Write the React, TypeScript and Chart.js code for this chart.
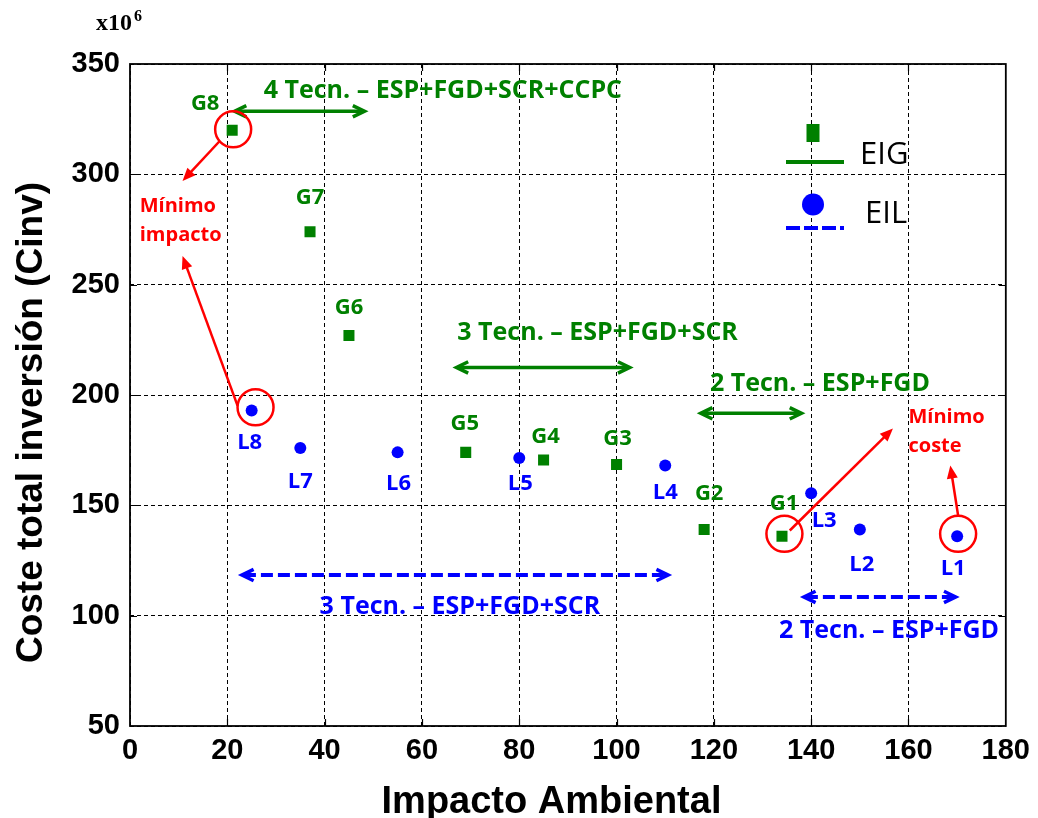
import React, { useEffect, useRef } from 'react';
import { Chart, registerables } from 'chart.js';

Chart.register(...registerables);

// ---------------- data ----------------
const seriesNames = ['EIG', 'EIL'];
const gLabels = ['G1', 'G2', 'G3', 'G4', 'G5', 'G6', 'G7', 'G8'];
const gImpact = [134, 118, 100, 85, 69, 45, 37, 21];
const gCost = [136, 139, 168.5, 170.5, 174, 227, 274, 320];
const lLabels = ['L1', 'L2', 'L3', 'L4', 'L5', 'L6', 'L7', 'L8'];
const lImpact = [170, 150, 140, 110, 80, 55, 35, 25];
const lCost = [136, 139, 155.5, 168, 171.5, 174, 176, 193];
const xTicks = [0, 20, 40, 60, 80, 100, 120, 140, 160, 180];
const yTicks = [50, 100, 150, 200, 250, 300, 350];
const xTitle = 'Impacto Ambiental';
const yTitle = 'Coste total inversión (Cinv)';
const yMultiplier = ['x10', '6'];

// technology ranges (data units)
const rangeTexts = [
  '4 Tecn. – ESP+FGD+SCR+CCPC',
  '3 Tecn. – ESP+FGD+SCR',
  '2 Tecn. – ESP+FGD',
  '3 Tecn. – ESP+FGD+SCR',
  '2 Tecn. – ESP+FGD',
];
const rangeSeries = [0, 0, 0, 1, 1];
const rangeFrom = [21.5, 67.1, 117.3, 23, 138.5];
const rangeTo = [48.2, 102.7, 138, 110.6, 169.7];
const rangeLevel = [328.6, 212.5, 191.7, 118.4, 108.5];
const rangeTextX = [64.3, 96.1, 141.8, 67.8, 156];
const rangeTextY = [338.8, 228.8, 205.7, 104.7, 94.1];

// highlighted optima (data units)
const noteLines = [['Mínimo', 'impacto'], ['Mínimo', 'coste']];
const noteX = [2.0, 160.0];
const noteY = [286, 190.6];
const circledX = [21.2, 25.8, 134.5, 170.2];
const circledY = [320.4, 194.4, 137.1, 137.1];
const pointerFromX = [18.4, 22.1, 135.6, 170.2];
const pointerFromY = [315, 195.2, 138.6, 145.4];
const pointerToX = [10.8, 10.8, 156.8, 168.6];
const pointerToY = [297, 263, 184.8, 168];

// ---------------- styles ----------------
const GREEN = '#008000';
const BLUE = '#0000ff';
const RED = '#ff0000';
const seriesColors = [GREEN, BLUE];
const LABEL_FONT = '"Open Sans", "Noto Sans", sans-serif';
const AXIS_FONT = '"Liberation Sans", Arial, sans-serif';
const gLabelDx = [2, 5, 1, 2, -1, 0, 0, -27];
const gLabelDy = [-34, -37, -27, -25, -30, -29, -36, -28];
const lLabelDx = [-4, 2, 13, 0, 1, 1, 0, -2];
const lLabelDy = [31, 34, 26, 26, 24, 30, 32, 31];

function capText(ctx: CanvasRenderingContext2D, str: string, x: number, y: number, size: number, weight: string, color: string, align: CanvasTextAlign = 'center', family = LABEL_FONT) {
  ctx.font = `${weight} ${size}px ${family}`;
  ctx.fillStyle = color;
  ctx.textAlign = align;
  ctx.textBaseline = 'alphabetic';
  ctx.fillText(str, x, y + size * 0.357);
}

function chevron(ctx: CanvasRenderingContext2D, tx: number, ty: number, ang: number, len: number, spread: number) {
  ctx.beginPath();
  ctx.moveTo(tx - len * Math.cos(ang - spread), ty - len * Math.sin(ang - spread));
  ctx.lineTo(tx, ty);
  ctx.lineTo(tx - len * Math.cos(ang + spread), ty - len * Math.sin(ang + spread));
  ctx.stroke();
}

function filledHead(ctx: CanvasRenderingContext2D, tx: number, ty: number, ang: number, len: number, half: number) {
  const bx = tx - len * Math.cos(ang);
  const by = ty - len * Math.sin(ang);
  ctx.beginPath();
  ctx.moveTo(tx, ty);
  ctx.lineTo(bx + half * Math.sin(ang), by - half * Math.cos(ang));
  ctx.lineTo(bx - half * Math.sin(ang), by + half * Math.cos(ang));
  ctx.closePath();
  ctx.fill();
}

const annotPlugin = {
  id: 'annot',
  afterDatasetsDraw(chart: any) {
    const { ctx, chartArea: ca, scales } = chart;
    const xs = scales.x;
    const ys = scales.y;
    const px = (v: number) => xs.getPixelForValue(v);
    const py = (v: number) => ys.getPixelForValue(v);
    ctx.save();

    // frame + inner ticks
    ctx.strokeStyle = '#000';
    ctx.lineWidth = 1.8;
    ctx.setLineDash([]);
    ctx.strokeRect(ca.left, ca.top, ca.right - ca.left, ca.bottom - ca.top);
    ctx.lineWidth = 1.2;
    ctx.beginPath();
    xTicks.slice(1, -1).forEach((v) => {
      const X = Math.round(px(v)) + 0.5;
      ctx.moveTo(X, ca.bottom); ctx.lineTo(X, ca.bottom - 7);
      ctx.moveTo(X, ca.top); ctx.lineTo(X, ca.top + 7);
    });
    yTicks.slice(1, -1).forEach((v) => {
      const Y = Math.round(py(v)) + 0.5;
      ctx.moveTo(ca.left, Y); ctx.lineTo(ca.left + 7, Y);
      ctx.moveTo(ca.right, Y); ctx.lineTo(ca.right - 7, Y);
    });
    ctx.stroke();

    // axis titles
    capText(ctx, xTitle, 551.5, 799, 38, 'bold', '#000', 'center', AXIS_FONT);
    ctx.save();
    ctx.translate(28.5, 422.5);
    ctx.rotate(-Math.PI / 2);
    capText(ctx, yTitle, 0, 0, 37, 'bold', '#000', 'center', AXIS_FONT);
    ctx.restore();

    // range arrows
    rangeTexts.forEach((t, i) => {
      const col = seriesColors[rangeSeries[i]];
      const dashed = rangeSeries[i] === 1;
      const x1 = px(rangeFrom[i]);
      const x2 = px(rangeTo[i]);
      const Y = py(rangeLevel[i]);
      ctx.strokeStyle = col;
      ctx.lineWidth = dashed ? 4 : 3.5;
      ctx.lineCap = 'butt';
      ctx.setLineDash(dashed ? [12, 5] : []);
      ctx.beginPath();
      ctx.moveTo(x1 + 2, Y);
      ctx.lineTo(x2 - 2, Y);
      ctx.stroke();
      ctx.setLineDash([]);
      ctx.lineJoin = 'miter';
      ctx.lineWidth = 3.5;
      chevron(ctx, x2, Y, 0, 13, 0.45);
      chevron(ctx, x1, Y, Math.PI, 13, 0.45);
      capText(ctx, t, px(rangeTextX[i]), py(rangeTextY[i]), 25, 'bold', col);
    });

    // point labels
    const gMeta = chart.getDatasetMeta(0).data;
    const lMeta = chart.getDatasetMeta(1).data;
    gLabels.forEach((lab, i) => {
      const p = gMeta[i];
      capText(ctx, lab, p.x + gLabelDx[i], p.y + gLabelDy[i], 22, 'bold', GREEN);
    });
    lLabels.forEach((lab, i) => {
      const p = lMeta[i];
      capText(ctx, lab, p.x + lLabelDx[i], p.y + lLabelDy[i], 22, 'bold', BLUE);
    });

    // red highlights
    ctx.strokeStyle = RED;
    ctx.fillStyle = RED;
    ctx.lineWidth = 2.5;
    circledX.forEach((cx, i) => {
      ctx.beginPath();
      ctx.arc(px(cx), py(circledY[i]), 18, 0, Math.PI * 2);
      ctx.stroke();
    });
    pointerFromX.forEach((fx, i) => {
      const x1 = px(fx), y1 = py(pointerFromY[i]);
      const x2 = px(pointerToX[i]), y2 = py(pointerToY[i]);
      const ang = Math.atan2(y2 - y1, x2 - x1);
      ctx.beginPath();
      ctx.moveTo(x1, y1);
      ctx.lineTo(x2 - 10 * Math.cos(ang), y2 - 10 * Math.sin(ang));
      ctx.stroke();
      filledHead(ctx, x2, y2, ang, 13, 5.5);
    });
    noteLines.forEach((lines, i) => {
      lines.forEach((ln, j) => {
        capText(ctx, ln, px(noteX[i]), py(noteY[i]) + j * 29, 20, 'bold', RED, 'left');
      });
    });

    // legend
    const lx = ca.left + 683;
    const ly = ca.top;
    ctx.fillStyle = GREEN;
    ctx.fillRect(lx - 6.5, ly + 60, 13, 18);
    ctx.strokeStyle = GREEN;
    ctx.lineWidth = 4;
    ctx.beginPath();
    ctx.moveTo(lx - 27, ly + 98); ctx.lineTo(lx + 31, ly + 98);
    ctx.stroke();
    capText(ctx, seriesNames[0], lx + 47, ly + 89, 31, 'normal', '#000', 'left');
    ctx.fillStyle = BLUE;
    ctx.beginPath();
    ctx.arc(lx, ly + 140.5, 11, 0, Math.PI * 2);
    ctx.fill();
    ctx.strokeStyle = BLUE;
    ctx.setLineDash([14, 4]);
    ctx.beginPath();
    ctx.moveTo(lx - 27, ly + 164); ctx.lineTo(lx + 31, ly + 164);
    ctx.stroke();
    ctx.setLineDash([]);
    capText(ctx, seriesNames[1], lx + 52, ly + 148, 31, 'normal', '#000', 'left');

    // multiplier
    ctx.fillStyle = '#000';
    ctx.textAlign = 'left';
    ctx.textBaseline = 'alphabetic';
    ctx.font = 'bold 24px "Liberation Serif", serif';
    ctx.fillText(yMultiplier[0], 96, 30);
    const w = ctx.measureText(yMultiplier[0]).width;
    ctx.font = 'bold 16px "Liberation Serif", serif';
    ctx.fillText(yMultiplier[1], 96 + w + 2, 21);

    ctx.restore();
  },
};

export default function App() {
  const ref = useRef<HTMLCanvasElement>(null);
  useEffect(() => {
    document.body.style.margin = '0';
    const chart = new Chart(ref.current as HTMLCanvasElement, {
      type: 'scatter',
      data: {
        datasets: [
          {
            label: seriesNames[0],
            data: gImpact.map((x, i) => ({ x, y: gCost[i] })),
            pointStyle: 'rect',
            pointRadius: 7.8,
            backgroundColor: GREEN,
            borderColor: GREEN,
            borderWidth: 0,
          },
          {
            label: seriesNames[1],
            data: lImpact.map((x, i) => ({ x, y: lCost[i] })),
            pointStyle: 'circle',
            pointRadius: 6,
            backgroundColor: BLUE,
            borderColor: BLUE,
            borderWidth: 0,
          },
        ],
      },
      options: {
        animation: false,
        responsive: false,
        devicePixelRatio: 1,
        events: [],
        layout: { padding: { top: 64, right: 32, left: 0, bottom: 0 } },
        plugins: { legend: { display: false }, tooltip: { enabled: false } },
        scales: {
          x: {
            type: 'linear',
            min: 0,
            max: 180,
            afterBuildTicks: (s: any) => { s.ticks = xTicks.map((v) => ({ value: v })); },
            afterFit: (s: any) => { s.height = 92; },
            grid: { color: '#000', lineWidth: 1, drawTicks: false },
            border: { display: false, dash: [4, 3] },
            ticks: {
              color: '#000',
              padding: 8,
              maxRotation: 0,
              autoSkip: false,
              font: { family: AXIS_FONT, weight: 'bold', size: 29, lineHeight: 1.2 },
            },
            title: { display: false },
          },
          y: {
            type: 'linear',
            min: 50,
            max: 350,
            afterBuildTicks: (s: any) => { s.ticks = yTicks.map((v) => ({ value: v })); },
            afterFit: (s: any) => { s.width = 130; },
            grid: { color: '#000', lineWidth: 1, drawTicks: false },
            border: { display: false, dash: [4, 3] },
            ticks: {
              color: '#000',
              padding: 10,
              autoSkip: false,
              font: { family: AXIS_FONT, weight: 'bold', size: 29, lineHeight: 1.2 },
            },
            title: { display: false },
          },
        },
      } as any,
      plugins: [annotPlugin],
    });
    return () => chart.destroy();
  }, []);
  return <canvas ref={ref} width={1038} height={818} style={{ display: 'block', width: 1038, height: 818 }} />;
}
